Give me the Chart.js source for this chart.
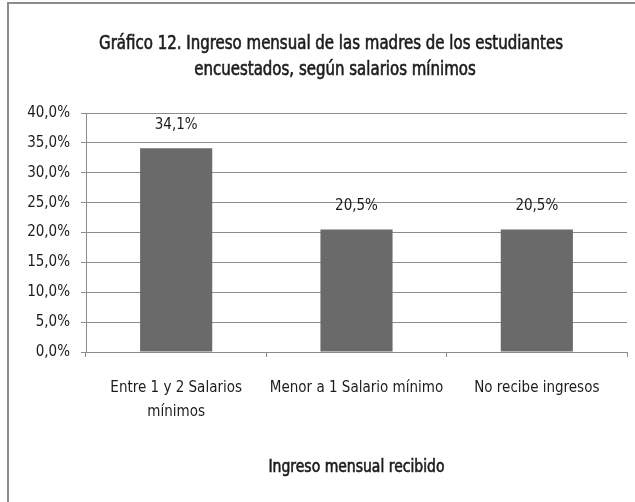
<!DOCTYPE html>
<html>
<head>
<meta charset="utf-8">
<script src="https://cdn.jsdelivr.net/npm/chart.js@4/dist/chart.umd.min.js"></script>
<style>
  html, body { margin: 0; padding: 0; background: #ffffff; }
  #wrap { position: relative; width: 635px; height: 502px; overflow: hidden; }
  #frame { position: absolute; left: 7px; top: 2px; width: 700px; height: 600px;
           border-left: 2px solid #8c8c8c; border-top: 2px solid #8c8c8c; box-sizing: border-box; }
  canvas { position: absolute; left: 0; top: 0; }
</style>
</head>
<body>
<div id="wrap">
  <div id="frame"></div>
  <canvas id="c" width="635" height="502"></canvas>
</div>
<script>
const titleLines = ["Gráfico 12. Ingreso mensual de las madres de los estudiantes", "encuestados, según salarios mínimos"];
const categories = [["Entre 1 y 2 Salarios", "mínimos"], "Menor a 1 Salario mínimo", "No recibe ingresos"];
const values = [34.1, 20.5, 20.5];
const valueLabels = ["34,1%", "20,5%", "20,5%"];
const xAxisTitle = "Ingreso mensual recibido";
const yTickMax = 40;
const yTickStep = 5;

const FONT = "'Liberation Sans Narrow', 'DejaVu Sans Condensed', sans-serif";
const TEXT = '#1c1c1c';
const GRID = '#8c8c8c';

// draws compressed (Calibri-like), slightly emboldened text
function drawSqueezed(ctx, text, cx, baseline, font, scale) {
  ctx.save();
  ctx.font = font;
  ctx.translate(cx, baseline);
  ctx.scale(scale, 1);
  ctx.textAlign = 'center';
  ctx.textBaseline = 'alphabetic';
  ctx.fillStyle = TEXT;
  ctx.strokeStyle = TEXT;
  ctx.lineWidth = 0.6;
  ctx.fillText(text, 0, 0);
  ctx.strokeText(text, 0, 0);
  ctx.restore();
}
function scaleFor(ctx, text, font, targetWidth) {
  ctx.save();
  ctx.font = font;
  const w = ctx.measureText(text).width;
  ctx.restore();
  return targetWidth / w;
}

const textPlugin = {
  id: 'texts',
  afterDraw(chart) {
    const ctx = chart.ctx;
    const area = chart.chartArea;
    const tFont = '19px ' + FONT;
    const s = scaleFor(ctx, titleLines[0], tFont, 464);
    drawSqueezed(ctx, titleLines[0], 331, 49, tFont, s);
    drawSqueezed(ctx, titleLines[1], 335, 75, tFont, s);
    const aFont = '17px ' + FONT;
    drawSqueezed(ctx, xAxisTitle, (area.left + area.right) / 2, 472, aFont,
                 scaleFor(ctx, xAxisTitle, aFont, 176));
  },
  afterDatasetsDraw(chart) {
    const ctx = chart.ctx;
    const meta = chart.getDatasetMeta(0);
    ctx.save();
    ctx.font = '15px ' + FONT;
    ctx.fillStyle = TEXT;
    ctx.textAlign = 'center';
    ctx.textBaseline = 'middle';
    meta.data.forEach((bar, i) => {
      ctx.fillText(valueLabels[i], bar.x, bar.y - 23);
    });
    ctx.restore();
  }
};

new Chart(document.getElementById('c'), {
  type: 'bar',
  data: {
    labels: categories,
    datasets: [{
      data: values,
      backgroundColor: '#6a6a6a',
      borderWidth: 0,
      categoryPercentage: 1.0,
      barPercentage: 0.4
    }]
  },
  options: {
    responsive: false,
    animation: false,
    devicePixelRatio: 1,
    layout: { padding: { left: 0, right: 8, top: 113, bottom: 0 } },
    plugins: {
      legend: { display: false },
      tooltip: { enabled: false },
      title: { display: false }
    },
    scales: {
      x: {
        offset: true,
        grid: { display: true, drawOnChartArea: false, drawTicks: true, tickLength: 5, color: GRID, offset: true },
        border: { display: true, color: GRID, width: 1 },
        ticks: {
          color: TEXT,
          font: { family: FONT, size: 15, lineHeight: 1.6 },
          padding: 19,
          maxRotation: 0,
          autoSkip: false
        },
        afterFit(scale) { scale.height = 150; }
      },
      y: {
        min: 0,
        max: yTickMax,
        grid: { color: GRID, lineWidth: 1, tickLength: 5, drawTicks: true },
        border: { display: true, color: GRID, width: 1 },
        ticks: {
          stepSize: yTickStep,
          color: TEXT,
          font: { family: FONT, size: 15 },
          padding: 11,
          callback: (v) => v.toFixed(1).replace('.', ',') + '%'
        },
        afterFit(scale) { scale.width = 86; }
      }
    }
  },
  plugins: [textPlugin]
});
</script>
</body>
</html>
